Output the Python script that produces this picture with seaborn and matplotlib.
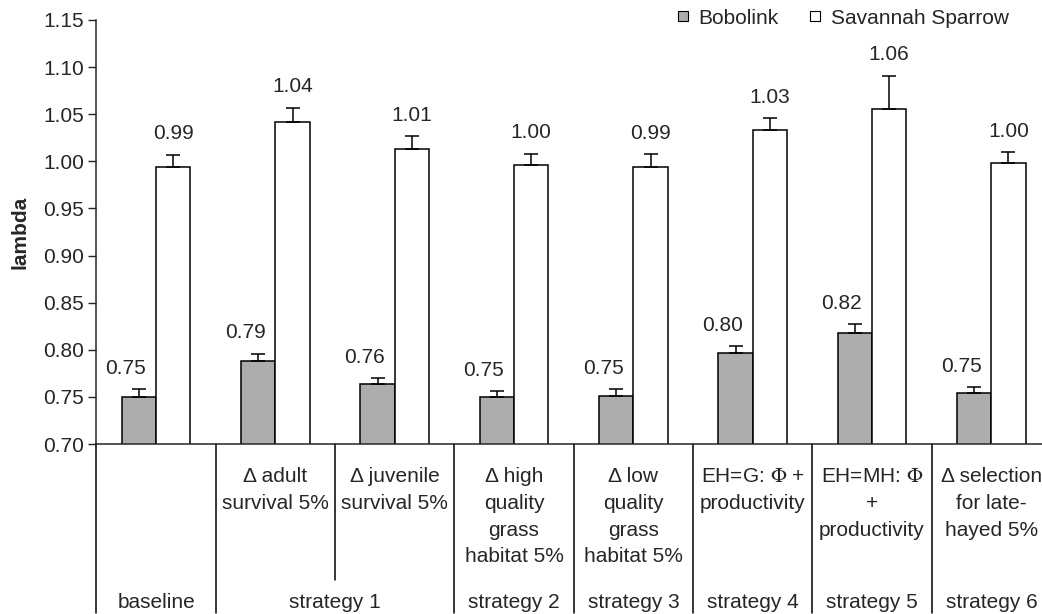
import matplotlib
matplotlib.use("Agg")
import matplotlib.pyplot as plt
import matplotlib.transforms as mtransforms
from matplotlib.lines import Line2D
import pandas as pd
import seaborn as sns

# values
groups = ["baseline", "adult", "juvenile", "high quality", "low quality",
          "EH=G", "EH=MH", "late-hayed"]
bobolink = [0.750, 0.788, 0.764, 0.750, 0.751, 0.797, 0.818, 0.754]
bobolink_err = [0.008, 0.008, 0.006, 0.006, 0.007, 0.0065, 0.009, 0.006]
savannah = [0.994, 1.042, 1.013, 0.996, 0.994, 1.033, 1.056, 0.998]
savannah_err = [0.013, 0.015, 0.0135, 0.012, 0.0135, 0.013, 0.035, 0.012]
species = ["Bobolink", "Savannah Sparrow"]

# two-row category table under the axis
desc_lines = [
    [],
    ["\u0394 adult", "survival 5%"],
    ["\u0394 juvenile", "survival 5%"],
    ["\u0394 high", "quality", "grass", "habitat 5%"],
    ["\u0394 low", "quality", "grass", "habitat 5%"],
    [r"EH=G: $\Phi$ +", "productivity"],
    [r"EH=MH: $\Phi$", "+", "productivity"],
    ["\u0394 selection", "for late-", "hayed 5%"],
]
strategy_labels = ["baseline", "strategy 1", "strategy 2", "strategy 3",
                   "strategy 4", "strategy 5", "strategy 6"]
strategy_pos = [0, 1.5, 3, 4, 5, 6, 7]

df = pd.DataFrame({
    "group": groups * 2,
    "species": [species[0]] * len(groups) + [species[1]] * len(groups),
    "lambda": bobolink + savannah,
})

sns.set_style("ticks")
plt.rcParams["font.family"] = ["Liberation Sans", "DejaVu Sans"]
plt.rcParams["mathtext.fontset"] = "stix"
FS = 15

W, H = 1042, 614
fig = plt.figure(figsize=(W / 100, H / 100), dpi=100)
ax = fig.add_axes([96.4 / W, 1 - 444 / H, 1 - 96.4 / W, (444 - 20) / H])

sns.barplot(data=df, x="group", y="lambda", hue="species", order=groups,
            hue_order=species, palette=["#adadad", "white"], width=0.574,
            edgecolor="black", linewidth=1.1, errorbar=None, legend=False, ax=ax)

for cont, vals, errs, dx in zip(ax.containers, [bobolink, savannah],
                                 [bobolink_err, savannah_err], [-9.5, 0]):
    xs = [p.get_x() + p.get_width() / 2 for p in cont.patches]
    ax.errorbar(xs, vals, yerr=[[0] * len(vals), errs], fmt="none",
                ecolor="black", elinewidth=1.1, capsize=5, capthick=1.1)
    for x, v, e in zip(xs, vals, errs):
        ax.annotate(f"{v:.2f}", (x, v + e), xytext=(dx, 15),
                    textcoords="offset points", ha="center", va="center",
                    fontsize=FS)

ax.set_ylim(0.70, 1.15)
ax.set_yticks([0.70 + 0.05 * i for i in range(10)])
ax.set_yticklabels([f"{0.70 + 0.05 * i:.2f}" for i in range(10)], fontsize=FS)
ax.set_xlim(-0.5, -0.5 + (W - 96.4) / 119.33)
ax.set_xticks([])
ax.set_xlabel("")
ax.set_ylabel("lambda", fontsize=FS, fontweight="bold", labelpad=10)
ax.tick_params(axis="y", length=6, width=1, direction="out", pad=3)
for s in ["top", "right"]:
    ax.spines[s].set_visible(False)
ax.spines["left"].set_linewidth(1.1)
ax.spines["bottom"].set_linewidth(1.1)

# table below the axis
tr = mtransforms.blended_transform_factory(ax.transData, fig.transFigure)
def fy(py):
    return 1 - py / H

for xb in [-0.5, 0.5, 2.5, 3.5, 4.5, 5.5, 6.5]:
    ax.plot([xb, xb], [fy(444), fy(613)], color="black", lw=1.1,
            transform=tr, clip_on=False)
ax.plot([1.5, 1.5], [fy(444), fy(580)], color="black", lw=1.1,
        transform=tr, clip_on=False)

for i, lines in enumerate(desc_lines):
    for k, line in enumerate(lines):
        ax.text(i, fy(477 + 26.5 * k), line, transform=tr, ha="center",
                va="center", fontsize=FS)
for x, lab in zip(strategy_pos, strategy_labels):
    ax.text(x, fy(602), lab, transform=tr, ha="center", va="center", fontsize=FS)

handles = [Line2D([], [], ls="none", marker="s", markersize=7,
                  markerfacecolor=c, markeredgecolor="black", markeredgewidth=0.8)
           for c in ["#adadad", "white"]]
fig.legend(handles, species, loc="center right", bbox_to_anchor=(1019 / W, fy(18)),
           ncol=2, frameon=False, fontsize=FS, borderpad=0, handlelength=0.7,
           handletextpad=0.4, columnspacing=1.4)

fig.savefig("out.png", dpi=100)
